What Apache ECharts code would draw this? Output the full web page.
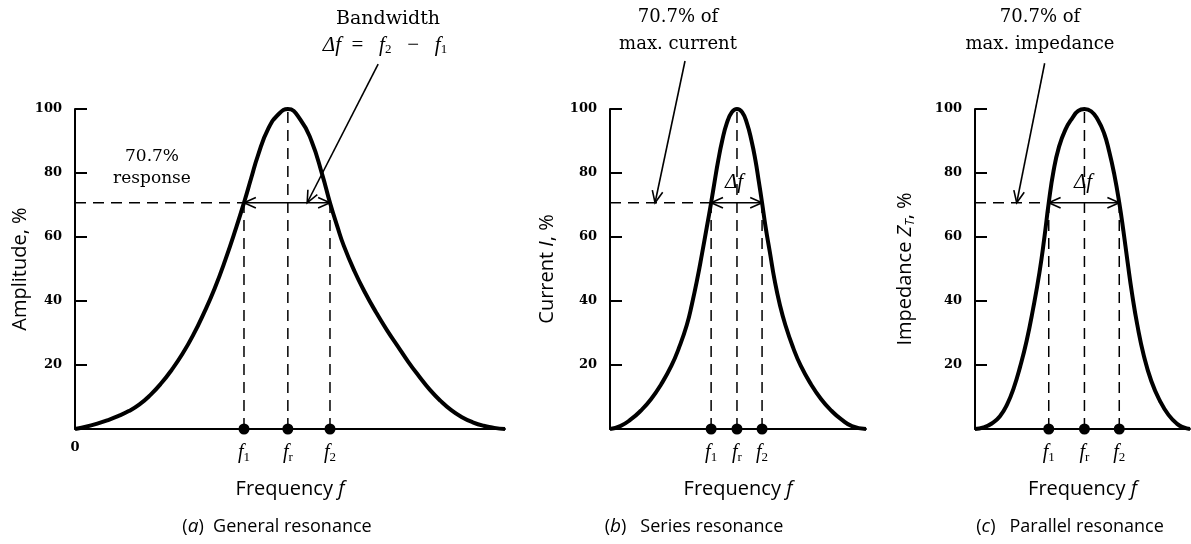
<!DOCTYPE html>
<html><head><meta charset="utf-8">
<script src="https://cdn.jsdelivr.net/npm/echarts@6/dist/echarts.min.js"></script>
<style>html,body{margin:0;padding:0;background:#fff}#c{width:1191px;height:544px}</style>
</head><body><div id="c"></div>
<script>
// ---------- data (frequency in relative units 0..100, response in %) ----------
const yTicks = [20, 40, 60, 80, 100];
const halfPower = 70.7;

const freqA = [0, 2.5, 5, 7.5, 10, 12.5, 15, 17.5, 20, 22.5, 25, 27.5, 30, 32.5, 35, 37.5, 39.3, 41, 42.5, 45, 47.5, 49.5, 52.5, 55, 57.5, 59.3, 61, 62.5, 65, 67.5, 70, 72.5, 75, 77.5, 80, 82.5, 85, 87.5, 90, 92.5, 95, 97.5, 100];
const ampA  = [0, 0.7, 1.6, 2.7, 4.0, 5.6, 7.7, 10.6, 14.2, 18.5, 23.5, 29.4, 36.3, 44, 53, 63, 70.7, 78.5, 85.3, 94, 98.6, 100, 96.5, 90, 79.5, 70.7, 63.3, 57.3, 49.3, 42.5, 36.5, 31, 26, 21, 16.5, 12.3, 8.8, 5.9, 3.7, 2.1, 1.0, 0.35, 0];
const markA = [39.3, 49.5, 59.3];            // f1, fr, f2
const leaderA = [[70.5, 114], [54, 70.7]];    // "Bandwidth" pointer

const freqB = [0, 4, 8, 12, 16, 20, 24, 27, 30, 32, 34, 36, 37.8, 39.5, 40.9, 42.3, 43.8, 45.6, 47.6, 49.6, 51.6, 53.5, 55.3, 56.8, 58.1, 59.4, 60.8, 62.5, 64.3, 66.3, 68.5, 71.5, 74.5, 78.5, 82.5, 86.5, 90.5, 94.5, 100];
const ampB  = [0, 0.9, 2.9, 5.7, 9.3, 14, 19.8, 25.5, 32.5, 39, 46.5, 55, 63, 70.7, 77.5, 84, 90, 95.5, 99, 100, 99, 95.5, 90, 84, 77.5, 70.7, 63, 55, 46.5, 39, 32.5, 25.5, 19.8, 14, 9.3, 5.7, 2.9, 0.9, 0];
const markB = [39.5, 49.6, 59.4];
const leaderB = [[29.3, 115], [17.6, 70.7]];

const freqC = [0, 4, 8, 11.6, 15, 18, 21, 24, 27, 30, 32.3, 34.3, 36.5, 39, 42, 45.4, 48, 50.9, 54, 57, 60, 62.5, 64.8, 67.1, 69, 71, 73, 75.5, 78.5, 82, 86, 90, 94, 97, 100];
const ampC  = [0, 0.5, 1.8, 4, 7.8, 12.8, 19.5, 27.5, 37.5, 49, 60, 70.7, 80.5, 88, 93.5, 97.3, 99.4, 100, 99.3, 96.8, 92.5, 86.5, 79.5, 70.7, 62, 52, 42.5, 32.5, 23, 15, 8.8, 4.4, 1.6, 0.5, 0];
const markC = [34.3, 50.9, 67.1];
const leaderC = [[32.4, 114.3], [19.4, 70.7]];

const markLabels = ['{i|f}{s|1}', '{i|f}{s|r}', '{i|f}{s|2}'];
const yTitles = ['Amplitude, %', 'Current {i|I}, %', 'Impedance {i|Z}{s|T}, %'];
const captions = ['({i|a})  General resonance', '({i|b})   Series resonance', '({i|c})   Parallel resonance'];

// ---------- helpers ----------
const SERIF = "'DejaVu Serif','Liberation Serif',serif";
const TSERIF = "'Liberation Serif','DejaVu Serif',serif";
const SANS = "'Open Sans','Lato',sans-serif";
const richSans = {
  i: {fontFamily: SANS, fontStyle: 'italic', fontSize: 19, color: '#000'},
  s: {fontFamily: SANS, fontStyle: 'italic', fontSize: 12, color: '#000', verticalAlign: 'bottom', padding: [10, 0, 0, 0]}
};
const richName = {
  i: {fontFamily: SANS, fontStyle: 'italic', fontSize: 20, color: '#000'}
};
const richSerif = {
  i: {fontFamily: TSERIF, fontStyle: 'italic', fontSize: 21, color: '#000', verticalAlign: 'middle'},
  s: {fontFamily: TSERIF, fontSize: 13, color: '#000', verticalAlign: 'bottom', padding: [10, 0, 0, 0]},
  n: {fontFamily: TSERIF, fontSize: 21, color: '#000'}
};

function guides(m, leader) {
  return [
    {kind: 'dash', p: [[m[0], 0], [m[0], halfPower]]},
    {kind: 'dash', p: [[m[1], 0], [m[1], 100]]},
    {kind: 'dash', p: [[m[2], 0], [m[2], halfPower]]},
    {kind: 'dash', p: [[0, halfPower], [m[0], halfPower]]},
    {kind: 'double', p: [[m[0], halfPower], [m[2], halfPower]]},
    {kind: 'leader', p: leader}
  ];
}
function headPts(tip, from, len, ang) {
  const a = Math.atan2(from[1] - tip[1], from[0] - tip[0]);
  return [
    [tip[0] + len * Math.cos(a + ang), tip[1] + len * Math.sin(a + ang)],
    tip,
    [tip[0] + len * Math.cos(a - ang), tip[1] + len * Math.sin(a - ang)]
  ];
}
function guideSeries(idx, segs) {
  return {
    type: 'custom', xAxisIndex: idx, yAxisIndex: idx, clip: false, silent: true, z: 3,
    data: segs.map((s, i) => [i]),
    renderItem: function (params, api) {
      const s = segs[params.dataIndex];
      const a = api.coord(s.p[0]), b = api.coord(s.p[1]);
      const ch = [];
      if (s.kind === 'dash') {
        ch.push({type: 'line', shape: {x1: a[0], y1: a[1], x2: b[0], y2: b[1]},
          style: {stroke: '#000', lineWidth: 1.5, lineDash: [11, 7]}});
      } else {
        ch.push({type: 'line', shape: {x1: a[0], y1: a[1], x2: b[0], y2: b[1]},
          style: {stroke: '#000', lineWidth: 1.6}});
        ch.push({type: 'polyline', shape: {points: headPts(b, a, 13, 0.42)}, style: {stroke: '#000', lineWidth: 1.6, fill: null}});
        if (s.kind === 'double')
          ch.push({type: 'polyline', shape: {points: headPts(a, b, 13, 0.42)}, style: {stroke: '#000', lineWidth: 1.6, fill: null}});
      }
      return {type: 'group', children: ch};
    }
  };
}

const panels = [
  {left: 75, width: 430, freq: freqA, amp: ampA, mark: markA, leader: leaderA, zero: true, gap: 45},
  {left: 610, width: 256, freq: freqB, amp: ampB, mark: markB, leader: leaderB, zero: false, gap: 53},
  {left: 975, width: 215, freq: freqC, amp: ampC, mark: markC, leader: leaderC, zero: false, gap: 58}
];

const grid = [], xAxis = [], yAxis = [], series = [];
panels.forEach((p, k) => {
  grid.push({left: p.left, top: 109, width: p.width, height: 320});
  const vals = p.zero ? [0].concat(p.mark) : p.mark.slice();
  xAxis.push({
    gridIndex: k, type: 'value', min: 0, max: 100,
    axisLine: {lineStyle: {color: '#000', width: 2}},
    axisTick: {show: false}, splitLine: {show: false},
    axisLabel: {
      customValues: vals, margin: 12,
      formatter: function (v) {
        const j = p.mark.indexOf(v);
        return j >= 0 ? markLabels[j] : '{z|0}';
      },
      rich: Object.assign({}, richSerif, {
        i: {fontFamily: TSERIF, fontStyle: 'italic', fontSize: 20, color: '#000', verticalAlign: 'middle'},
        z: {fontFamily: SERIF, fontSize: 13, fontWeight: 'bold', color: '#000'}})
    },
    name: 'Frequency {i|f}', nameLocation: 'middle', nameGap: 50,
    nameTextStyle: {fontFamily: SANS, fontSize: 20, color: '#000', rich: richName}
  });
  yAxis.push({
    gridIndex: k, type: 'value', min: 0, max: 100, interval: 20,
    axisLine: {show: true, lineStyle: {color: '#000', width: 2}},
    axisTick: {show: true, inside: true, length: 12, lineStyle: {color: '#000', width: 2}},
    splitLine: {show: false},
    axisLabel: {
      margin: 13, fontFamily: SERIF, fontSize: 13, fontWeight: 'bold', color: '#000',
      formatter: v => (yTicks.indexOf(v) >= 0 ? String(v) : '')
    },
    name: yTitles[k], nameLocation: 'middle', nameGap: p.gap, nameRotate: 90,
    nameTextStyle: {fontFamily: SANS, fontSize: 20, color: '#000',
      rich: {i: {fontFamily: SANS, fontStyle: 'italic', fontSize: 20, color: '#000'},
             s: {fontFamily: SANS, fontStyle: 'italic', fontSize: 13, color: '#000', verticalAlign: 'bottom', padding: [10, 0, 0, 0]}}}
  });
  series.push({
    type: 'line', xAxisIndex: k, yAxisIndex: k, data: p.freq.map((f, i) => [f, p.amp[i]]),
    smooth: 0.5, showSymbol: false, silent: true, z: 4,
    lineStyle: {color: '#000', width: 4}
  });
  series.push(guideSeries(k, guides(p.mark, p.leader)));
  series.push({
    type: 'scatter', xAxisIndex: k, yAxisIndex: k, data: p.mark.map(f => [f, 0]),
    symbolSize: 11, itemStyle: {color: '#000', opacity: 1}, silent: true, z: 6, clip: false
  });
});

function txt(x, y, text, font, rich, extra) {
  return {type: 'text', x: x, y: y, silent: true,
    style: Object.assign({text: text, align: 'center', verticalAlign: 'middle', font: font, fill: '#000', rich: rich || {}}, extra || {})};
}
const graphic = [
  txt(152, 168, '70.7%\nresponse', '17px ' + SERIF, null, {lineHeight: 22}),
  txt(388, 19, 'Bandwidth', '19px ' + SERIF),
  txt(385, 45, '{i|Δf}{n|  =   }{i|f}{s|2}{n|   −   }{i|f}{s|1}', '19px ' + TSERIF, richSerif),
  txt(678, 31, '70.7% of\nmax. current', '18px ' + SERIF, null, {lineHeight: 27}),
  txt(1040, 31, '70.7% of\nmax. impedance', '18px ' + SERIF, null, {lineHeight: 27}),
  txt(734, 182, '{i|Δf}', '18px ' + TSERIF, richSerif),
  txt(1083, 182, '{i|Δf}', '18px ' + TSERIF, richSerif),
  txt(277, 527, captions[0], '18px ' + SANS, richSans),
  txt(694, 527, captions[1], '18px ' + SANS, richSans),
  txt(1070, 527, captions[2], '18px ' + SANS, richSans)
];

const chart = echarts.init(document.getElementById('c'), null, {renderer: 'canvas'});
chart.setOption({animation: false, backgroundColor: '#fff', grid, xAxis, yAxis, series, graphic});
</script></body></html>
